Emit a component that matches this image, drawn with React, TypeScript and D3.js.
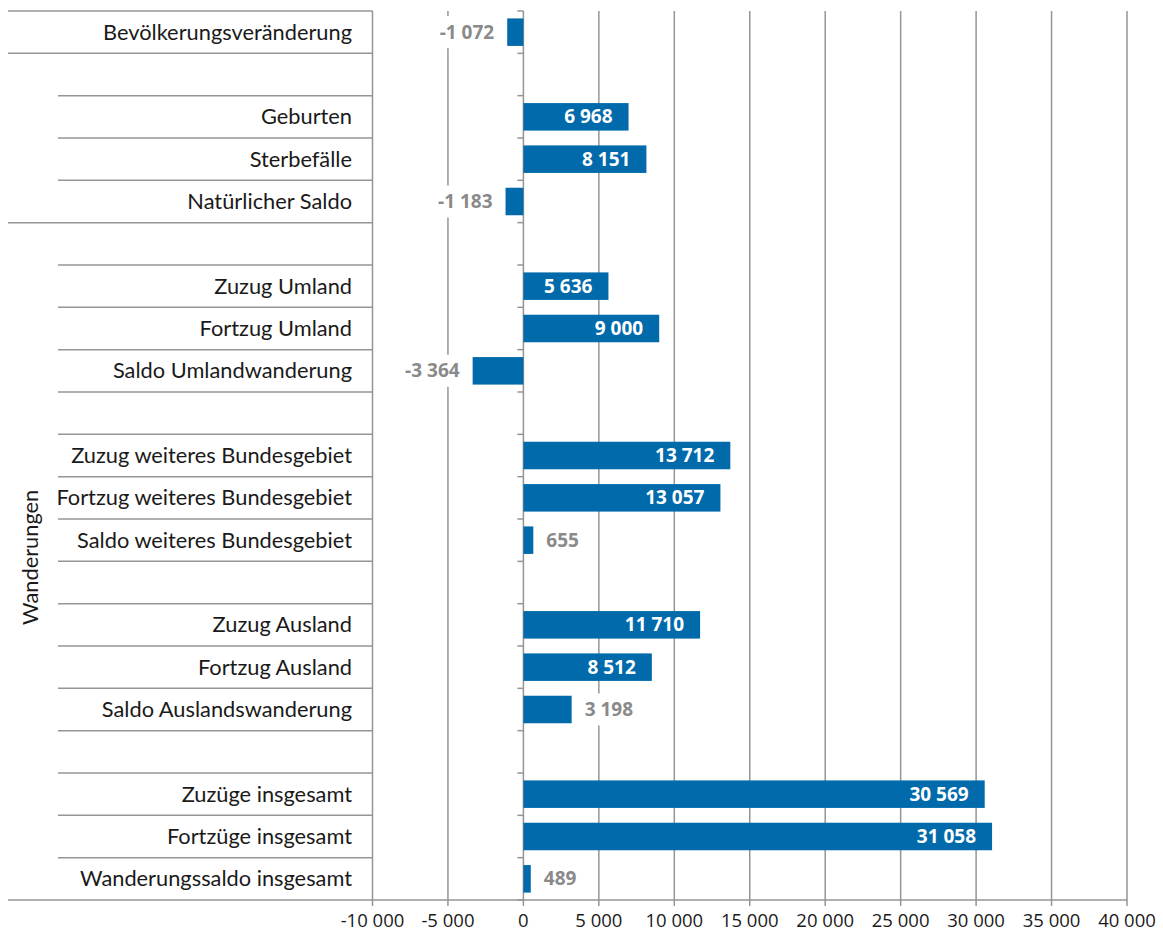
import React from "react";
import * as d3 from "d3";

const categories: string[] = [
  "Bevölkerungsveränderung",
  "",
  "Geburten",
  "Sterbefälle",
  "Natürlicher Saldo",
  "",
  "Zuzug Umland",
  "Fortzug Umland",
  "Saldo Umlandwanderung",
  "",
  "Zuzug weiteres Bundesgebiet",
  "Fortzug weiteres Bundesgebiet",
  "Saldo weiteres Bundesgebiet",
  "",
  "Zuzug Ausland",
  "Fortzug Ausland",
  "Saldo Auslandswanderung",
  "",
  "Zuzüge insgesamt",
  "Fortzüge insgesamt",
  "Wanderungssaldo insgesamt",
];

const values: (number | null)[] = [
  -1072, null, 6968, 8151, -1183, null, 5636, 9000, -3364, null, 13712, 13057, 655, null,
  11710, 8512, 3198, null, 30569, 31058, 489,
];

// outer groups of the category axis: [name, first row, row after last]
const groupNames: string[] = ["", "", "Wanderungen"];
const groupStarts: number[] = [0, 1, 5];
const groupEnds: number[] = [1, 5, 21];

const xTicks: number[] = [-10000, -5000, 0, 5000, 10000, 15000, 20000, 25000, 30000, 35000, 40000];

const W = 1163;
const H = 938;
const TOP = 11;
const BOTTOM = 900;
const X0 = 372.5;
const X1 = 1127;
const CAT_OUTER_X = 8;
const CAT_INNER_X = 58;
const BLUE = "#006aab";
const GRID = "#959595";
const LABEL_GRAY = "#8a8a8a";
const TEXT = "#1a1a1a";
const CAT_FONT = "Lato, 'Open Sans', sans-serif";
const NUM_FONT = "'Open Sans', 'Noto Sans', sans-serif";

const loc = d3.formatLocale({
  decimal: ",",
  thousands: " ",
  grouping: [3],
  currency: ["", ""],
  minus: "-",
});
const fmt = loc.format(",d");

export default function App() {
  const x = d3.scaleLinear().domain([-10000, 40000]).range([X0, X1]);
  const idx = categories.map((_, i) => String(i));
  const y = d3
    .scaleBand<string>()
    .domain(idx)
    .range([TOP, BOTTOM])
    .paddingInner(0.35)
    .paddingOuter(0.175);
  const step = y.step();
  const rowTop = (i: number) => TOP + i * step;

  const boundaries = d3.range(categories.length + 1);
  const outerBounds = new Set<number>([...groupStarts, ...groupEnds]);

  return (
    <svg
      width={W}
      height={H}
      style={{ position: "absolute", left: 0, top: 0, background: "#fff" }}
    >
      {xTicks
        .filter((t) => t !== 0)
        .map((t) => (
          <line
            key={"g" + t}
            x1={x(t)}
            x2={x(t)}
            y1={TOP}
            y2={BOTTOM + 6}
            stroke={GRID}
            strokeWidth={1.5}
          />
        ))}

      {boundaries.map((b) => (
        <line
          key={"b" + b}
          x1={outerBounds.has(b) ? CAT_OUTER_X : CAT_INNER_X}
          x2={X0}
          y1={rowTop(b)}
          y2={rowTop(b)}
          stroke={GRID}
          strokeWidth={1.5}
        />
      ))}

      <line x1={X0} x2={X1} y1={BOTTOM} y2={BOTTOM} stroke={GRID} strokeWidth={1.5} />

      <line x1={x(0)} x2={x(0)} y1={TOP} y2={BOTTOM + 6} stroke={GRID} strokeWidth={1.5} />
      {boundaries.map((b) => (
        <line
          key={"zt" + b}
          x1={x(0) - 6}
          x2={x(0)}
          y1={rowTop(b)}
          y2={rowTop(b)}
          stroke={GRID}
          strokeWidth={1.5}
        />
      ))}

      {xTicks.map((t) => (
        <text
          key={"xl" + t}
          x={x(t)}
          y={927}
          textAnchor="middle"
          fontFamily={NUM_FONT}
          fontSize={18.5}
          fill={TEXT}
        >
          {fmt(t)}
        </text>
      ))}

      {categories.map((c, i) =>
        c ? (
          <text
            key={"c" + i}
            x={352}
            y={(y(String(i)) as number) + y.bandwidth() / 2}
            dy="0.35em"
            textAnchor="end"
            fontFamily={CAT_FONT}
            fontSize={21.8}
            fill={TEXT}
          >
            {c}
          </text>
        ) : null
      )}

      {groupNames.map((g, k) =>
        g ? (
          <text
            key={"gr" + k}
            transform={`translate(${30},${(rowTop(groupStarts[k]) + rowTop(groupEnds[k])) / 2 - 4}) rotate(-90)`}
            textAnchor="middle"
            dy="0.35em"
            fontFamily={CAT_FONT}
            fontSize={21.8}
            fill={TEXT}
          >
            {g}
          </text>
        ) : null
      )}

      {values.map((v, i) => {
        if (v === null || v >= 5000) return null;
        const yc = (y(String(i)) as number) + y.bandwidth() / 2;
        const txt = fmt(v);
        const approxW = txt.length * 11;
        const gap = 13;
        const neg = v < 0;
        const tx = neg ? x(v) - gap : x(v) + gap;
        const bx = neg ? tx - approxW - 4 : tx - 4;
        return (
          <g key={"ol" + i}>
            <rect x={bx} y={yc - 16} width={approxW + 8} height={32} fill="#fff" />
            <text
              x={tx}
              y={yc}
              dy="0.35em"
              textAnchor={neg ? "end" : "start"}
              fontFamily={NUM_FONT}
              fontWeight={700}
              fontSize={19}
              fill={LABEL_GRAY}
            >
              {txt}
            </text>
          </g>
        );
      })}

      {values.map((v, i) =>
        v === null ? null : (
          <rect
            key={"bar" + i}
            x={Math.min(x(0), x(v))}
            y={y(String(i)) as number}
            width={Math.abs(x(v) - x(0))}
            height={y.bandwidth()}
            fill={BLUE}
          />
        )
      )}

      {values.map((v, i) =>
        v === null || v < 5000 ? null : (
          <text
            key={"il" + i}
            x={x(v) - 16}
            y={(y(String(i)) as number) + y.bandwidth() / 2}
            dy="0.35em"
            textAnchor="end"
            fontFamily={NUM_FONT}
            fontWeight={700}
            fontSize={19}
            fill="#fff"
          >
            {fmt(v)}
          </text>
        )
      )}
    </svg>
  );
}
